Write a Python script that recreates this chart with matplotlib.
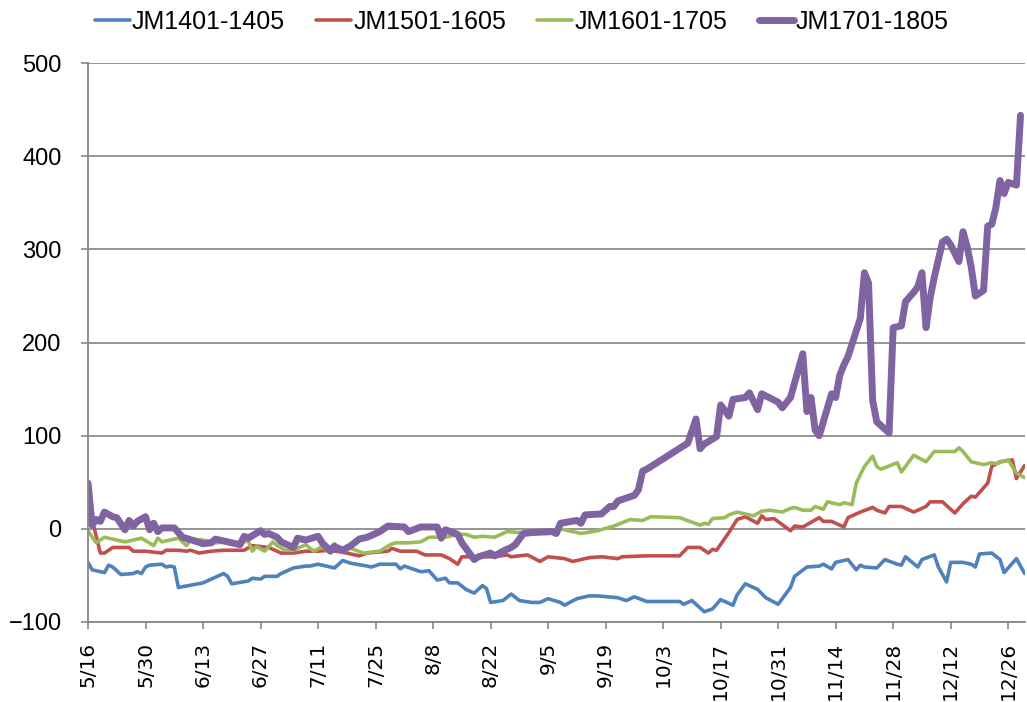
import matplotlib
matplotlib.use("Agg")
import matplotlib.pyplot as plt
import pandas as pd

# x values are days counted from 5/16
start = pd.Timestamp("2016-05-16")

days_1401 = [0, 1, 4, 5, 6, 8, 11, 12, 13, 14, 15, 18, 19, 20, 21, 22, 28, 33, 34, 35,
             39, 40, 42, 43, 46, 47, 50, 53, 54, 56, 59, 60, 61, 62, 64, 68, 69, 71, 75, 76,
             77, 81, 83, 85, 87, 88, 90, 92, 94, 96, 97, 98, 101, 103, 105, 108, 110, 112,
             115, 116, 119, 122, 124, 129, 131, 133, 136, 144, 145, 147, 150, 152, 154,
             157, 158, 160, 163, 165, 168, 171, 172, 175, 178, 179, 181, 182, 185, 187,
             188, 189, 192, 194, 197, 198, 199, 202, 203, 206, 207, 209, 210, 213, 215,
             216, 217, 220, 222, 223, 226, 228]
vals_1401 = [-36, -44, -47, -39, -41, -49, -48, -46, -48, -41, -39, -38, -41, -40, -41, -63,
             -58, -48, -51, -59, -56, -53, -54, -51, -51, -48, -42, -40, -40, -38, -41, -42,
             -38, -34, -37, -40, -41, -38, -38, -43, -40, -46, -45, -55, -53, -58, -58, -65,
             -69, -61, -64, -79, -77, -70, -77, -79, -79, -75, -79, -82, -75, -72, -72, -74,
             -77, -73, -78, -78, -81, -77, -89, -86, -76, -82, -71, -59, -65, -74, -81, -63,
             -51, -41, -40, -38, -43, -36, -33, -44, -39, -41, -42, -33, -38, -39, -30, -41,
             -33, -28, -41, -57, -36, -36, -38, -41, -27, -26, -33, -47, -32, -48]

days_1501 = [0, 3, 4, 6, 10, 11, 14, 18, 19, 22, 24, 25, 27, 30, 33, 38, 40, 44, 47, 50,
             53, 56, 59, 63, 66, 68, 73, 74, 76, 80, 82, 86, 88, 90, 91, 94, 99, 102, 103,
             107, 110, 112, 116, 118, 122, 125, 129, 130, 136, 144, 146, 149, 151, 152,
             153, 156, 158, 160, 163, 164, 165, 167, 171, 172, 174, 178, 179, 181, 184,
             185, 188, 191, 192, 194, 195, 198, 201, 204, 205, 208, 211, 213, 215, 216,
             219, 220, 222, 225, 226, 228]
vals_1501 = [28, -26, -26, -20, -20, -24, -24, -26, -23, -23, -24, -23, -26, -24, -23, -23,
             -18, -20, -26, -26, -24, -24, -23, -26, -29, -26, -24, -21, -24, -24, -28, -28,
             -32, -38, -30, -30, -30, -28, -30, -28, -35, -30, -32, -35, -31, -30, -32, -30,
             -29, -29, -20, -20, -26, -22, -23, -4, 10, 13, 6, 14, 10, 11, -2, 3, 2, 12, 8,
             8, 2, 12, 18, 23, 20, 17, 24, 24, 18, 24, 29, 29, 17, 27, 35, 34, 49, 67, 72,
             74, 54, 68]

days_1601 = [0, 2, 4, 9, 13, 16, 17, 18, 19, 22, 24, 25, 28, 31, 34, 37, 39, 40, 41, 43,
             45, 46, 48, 50, 53, 55, 57, 58, 60, 61, 64, 67, 71, 74, 75, 78, 81, 83, 87, 90,
             92, 94, 96, 99, 102, 105, 107, 111, 115, 117, 120, 124, 128, 132, 135, 137,
             144, 149, 150, 151, 152, 155, 156, 158, 161, 162, 164, 166, 169, 171, 172,
             174, 176, 177, 179, 180, 183, 184, 186, 187, 189, 191, 192, 193, 197, 198,
             201, 204, 206, 211, 212, 213, 215, 218, 220, 221, 224, 226, 228]
vals_1601 = [-2, -15, -9, -14, -10, -18, -10, -14, -13, -10, -18, -11, -12, -15, -14, -15,
             -13, -24, -19, -24, -14, -18, -23, -23, -17, -24, -19, -23, -16, -21, -21, -26,
             -24, -16, -15, -15, -14, -9, -9, -6, -6, -9, -8, -9, -3, -4, -4, -3, 0, -2, -5,
             -2, 3, 10, 9, 13, 12, 4, 6, 5, 11, 12, 15, 18, 15, 14, 19, 20, 18, 22, 23, 20,
             20, 24, 21, 29, 26, 28, 26, 49, 67, 78, 67, 64, 71, 61, 79, 72, 83, 83, 87, 83,
             72, 69, 71, 70, 74, 60, 55]

days_1701 = [0, 1, 2, 3, 4, 6, 7, 9, 10, 11, 12, 14, 15, 16, 17, 18, 21, 23, 26, 28, 30,
             31, 34, 37, 38, 39, 42, 43, 44, 46, 47, 50, 51, 53, 56, 57, 59, 60, 62, 64,
             66, 68, 71, 73, 77, 78, 81, 85, 86, 87, 90, 91, 94, 95, 98, 99, 101, 103, 104,
             106, 108, 113, 114, 115, 119, 120, 121, 125, 127, 128, 129, 133, 134, 135,
             136, 146, 148, 149, 150, 153, 154, 156, 157, 160, 161, 163, 164, 168, 169,
             171, 174, 175, 176, 177, 178, 181, 182, 183, 184, 185, 188, 189, 190, 191,
             192, 195, 196, 198, 199, 201, 202, 203, 204, 205, 206, 208, 209, 210, 212,
             213, 214, 215, 216, 218, 219, 220, 221, 222, 223, 224, 226, 227]
vals_1701 = [49, 4, 10, 8, 18, 13, 12, -1, 9, 3, 8, 13, -1, 6, -3, 1, 1, -9, -13, -16, -15,
             -11, -14, -17, -8, -10, -2, -6, -5, -9, -14, -20, -10, -12, -8, -15, -24, -19,
             -23, -18, -11, -9, -3, 3, 2, -3, 2, 2, -10, -1, -6, -15, -33, -30, -26, -29,
             -24, -20, -17, -5, -4, -3, -5, 6, 9, 6, 15, 16, 24, 24, 30, 36, 42, 62, 64, 92,
             118, 86, 91, 99, 133, 121, 139, 141, 146, 128, 145, 136, 130, 141, 188, 126,
             141, 106, 100, 145, 141, 165, 176, 185, 226, 275, 264, 138, 115, 103, 216, 218,
             244, 254, 260, 275, 216, 248, 270, 308, 311, 305, 287, 319, 303, 281, 250, 256,
             325, 327, 345, 374, 360, 372, 369, 444]

series = [
    ("JM1401-1405", days_1401, vals_1401, "#4F81BD", 2.6),
    ("JM1501-1605", days_1501, vals_1501, "#C0504D", 2.6),
    ("JM1601-1705", days_1601, vals_1601, "#9BBB59", 2.6),
    ("JM1701-1805", days_1701, vals_1701, "#8064A2", 5.0),
]

tick_dates = pd.date_range(start, periods=17, freq="14D")
tick_labels = [f"{d.month}/{d.day}" for d in tick_dates]

fig = plt.figure(figsize=(10.27, 7.02), dpi=100)
ax = fig.add_axes([0.0857, 0.114, 0.912, 0.796])

for name, days, vals, color, lw in series:
    x = start + pd.to_timedelta(days, unit="D")
    ax.plot(x, vals, color=color, lw=lw, label=name,
            solid_joinstyle="round", solid_capstyle="round")

ax.set_xlim(start, start + pd.Timedelta(days=228))
ax.set_ylim(-100, 500)
ax.set_yticks(range(-100, 501, 100))
ax.set_xticks(tick_dates)
ax.set_xticklabels(tick_labels, rotation=90, fontsize=14.5, family="DejaVu Sans")
ax.tick_params(axis="x", length=5, width=1.2, color="#878787", pad=9)
ax.tick_params(axis="y", length=5, width=1.2, color="#878787", pad=14, labelsize=17)
for lab in ax.get_yticklabels():
    lab.set_family("Liberation Sans")

ax.grid(axis="y", color="#8c8c8c", lw=1.3)
ax.set_axisbelow(True)
for side in ["top", "right"]:
    ax.spines[side].set_visible(False)
for side in ["left", "bottom"]:
    ax.spines[side].set_color("#878787")
    ax.spines[side].set_linewidth(1.3)

fig.legend(loc="upper center", bbox_to_anchor=(0.508, 1.018), ncol=4, frameon=False,
           prop={"family": "Liberation Sans", "size": 18}, handlelength=1.4,
           handletextpad=0.08, columnspacing=1.25)

fig.savefig("out.png", dpi=100)
